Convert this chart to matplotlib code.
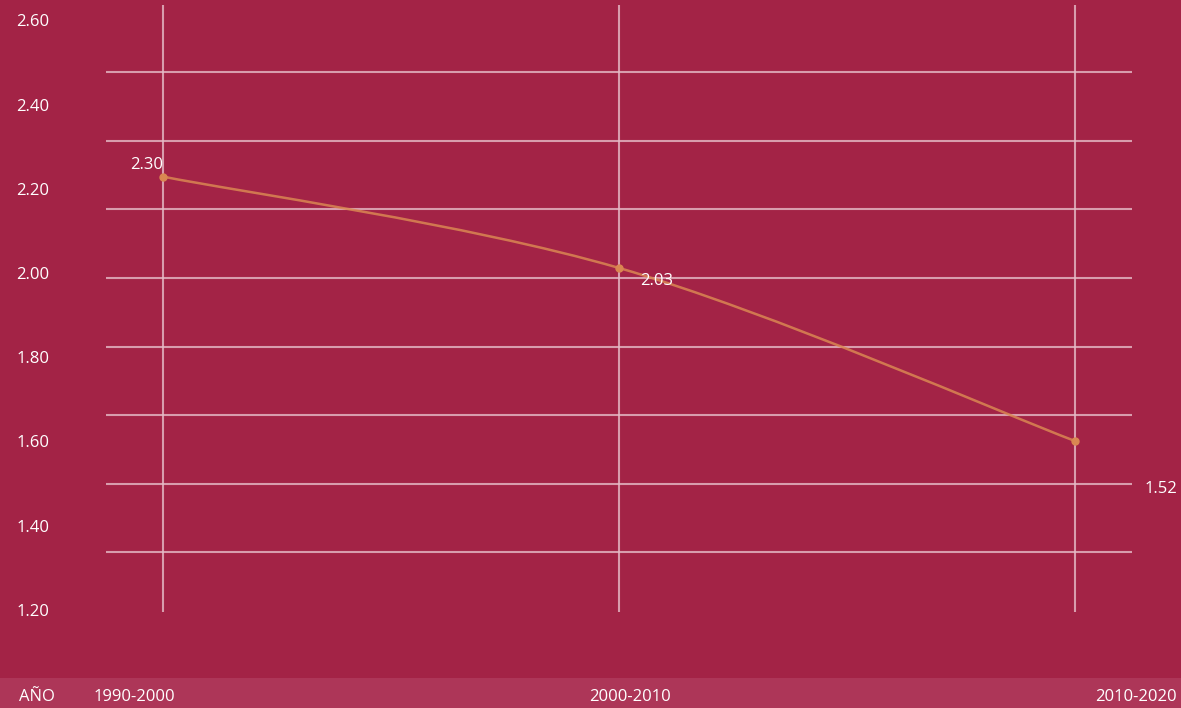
import numpy as np
import matplotlib.pyplot as plt
from matplotlib.path import Path
from matplotlib.patches import PathPatch, Rectangle

plt.rcParams['font.family'] = ['Open Sans', 'DejaVu Sans']

# data
periods = ['1990-2000', '2000-2010', '2010-2020']
values = [2.229, 2.012, 1.601]          # plotted position of each point
value_labels = ['2.30', '2.03', '1.52']  # printed label of each point
y_ticks = [1.20, 1.40, 1.60, 1.80, 2.00, 2.20, 2.40, 2.60]
y_tick_labels = ['1.20', '1.40', '1.60', '1.80', '2.00', '2.20', '2.40', '2.60']
grid_levels = [2.477, 2.314, 2.151, 1.988, 1.824, 1.663, 1.499, 1.337]
axis_title = 'AÑO'

bg = '#A32346'
band = '#AD3658'
line_col = '#DA8752'
grid_col = '#E6BCC8'

W, H = 1181, 708
fig = plt.figure(figsize=(W / 100, H / 100), dpi=100, facecolor=bg)

# bottom band
fig.patches.append(Rectangle((0, 0), 1, 30 / H, transform=fig.transFigure,
                             facecolor=band, edgecolor='none', zorder=0))

ax = fig.add_axes([106 / W, (H - 612) / H, (1132 - 106) / W, (612 - 5) / H])
ax.set_facecolor('none')
for s in ax.spines.values():
    s.set_visible(False)

x = np.arange(len(periods))
ax.set_xlim(-0.125, 2.125)
ax.set_ylim(1.1948, 2.6366)

for g in grid_levels:
    ax.axhline(g, color=grid_col, lw=1.5, alpha=0.8, zorder=1)
for xi in x:
    ax.axvline(xi, color=grid_col, lw=1.5, alpha=0.8, zorder=1)

# smoothed line (bezier through the points, excel style)
pts = np.column_stack([x, values]).astype(float)
ext = np.vstack([pts[0], pts, pts[-1]])
verts = [tuple(pts[0])]
codes = [Path.MOVETO]
for i in range(len(pts) - 1):
    p0, p1, p2, p3 = ext[i], ext[i + 1], ext[i + 2], ext[i + 3]
    c1 = p1 + (p2 - p0) / 6
    c2 = p2 - (p3 - p1) / 6
    verts += [tuple(c1), tuple(c2), tuple(p2)]
    codes += [Path.CURVE4] * 3
ax.add_patch(PathPatch(Path(verts, codes), facecolor='none', edgecolor=line_col,
                       lw=1.8, alpha=0.85, zorder=3))
ax.plot(x, values, 'o', color=line_col, ms=5, zorder=4)

offsets = [(0, 12, 'right'), (21, -13, 'left'), (70, -48, 'left')]
for xi, v, lab, (dx, dy, ha) in zip(x, values, value_labels, offsets):
    ax.annotate(lab, (xi, v), xytext=(dx, dy), textcoords='offset pixels',
                ha=ha, va='center', color='white', fontsize=12)

ax.set_xticks([])
ax.set_yticks(y_ticks)
ax.set_yticklabels(y_tick_labels, color='white', fontsize=12)
ax.tick_params(axis='y', length=0, pad=41)

# bottom band labels
fig.text(19 / W, 11 / H, axis_title, color='white', fontsize=12, ha='left', va='center')
label_x = [(94, 'left'), (630, 'center'), (1177, 'right')]
for lab, (px, ha) in zip(periods, label_x):
    fig.text(px / W, 11 / H, lab, color='white', fontsize=12, ha=ha, va='center')

fig.savefig('out.png', dpi=100, facecolor=bg)
